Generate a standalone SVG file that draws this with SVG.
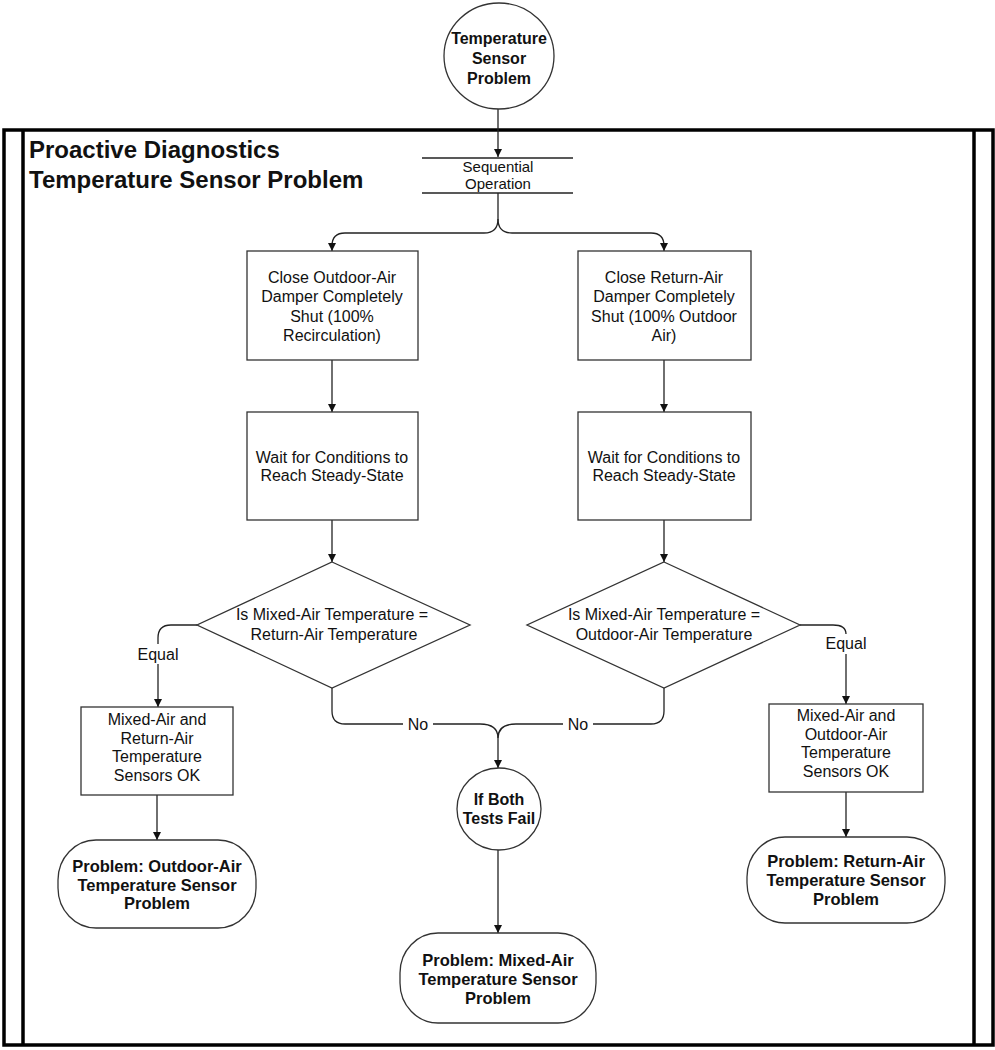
<svg xmlns="http://www.w3.org/2000/svg" width="995" height="1050" viewBox="0 0 995 1050">
<style>
text{font-family:"Liberation Sans",Arial,sans-serif;fill:#111;text-anchor:middle}
.t{font-size:16px}
.b{font-size:16.5px;font-weight:bold}
.title{font-size:24px;font-weight:bold;text-anchor:start}
.shape{fill:#fff;stroke:#333;stroke-width:1.3}
.conn{fill:none;stroke:#222;stroke-width:1.3}
.frame{fill:none;stroke:#000;stroke-width:3.5}
</style>
<defs>
<marker id="arr" viewBox="0 0 10 10" refX="10" refY="5" markerWidth="8" markerHeight="8" orient="auto" markerUnits="userSpaceOnUse">
<path d="M0,0 L10,5 L0,10 z" fill="#111"/>
</marker>
</defs>
<rect width="995" height="1050" fill="#fff"/>
<g id="frame">
<rect class="frame" x="4" y="130" width="989" height="915"/>
<line class="frame" x1="23" y1="130" x2="23" y2="1045"/>
<line class="frame" x1="974" y1="130" x2="974" y2="1045"/>
<text class="title" x="29" y="158">Proactive Diagnostics</text>
<text class="title" x="29" y="188">Temperature Sensor Problem</text>
</g>
<g id="connectors">
<path class="conn" d="M498,109 V157" marker-end="url(#arr)"/>
<path class="conn" d="M498,193 V219 Q498,233 484,233 H345 Q332,233 332,246 V251" marker-end="url(#arr)"/>
<path class="conn" d="M498,219 Q498,233 512,233 H651 Q664,233 664,246 V251" marker-end="url(#arr)"/>
<path class="conn" d="M332,360 V412" marker-end="url(#arr)"/>
<path class="conn" d="M664,360 V412" marker-end="url(#arr)"/>
<path class="conn" d="M332,520 V562" marker-end="url(#arr)"/>
<path class="conn" d="M664,520 V562" marker-end="url(#arr)"/>
<path class="conn" d="M197,625 H171 Q158,625 158,638 V644"/>
<path class="conn" d="M158,664 V707" marker-end="url(#arr)"/>
<path class="conn" d="M800,625 H833 Q846,625 846,634"/>
<path class="conn" d="M846,654 V704" marker-end="url(#arr)"/>
<path class="conn" d="M332,688 V711 Q332,724 345,724 H480 Q498,724 498,738"/>
<path class="conn" d="M664,688 V711 Q664,724 651,724 H516 Q498,724 498,738"/>
<path class="conn" d="M498,738 V768" marker-end="url(#arr)"/>
<path class="conn" d="M498,850 V933" marker-end="url(#arr)"/>
<path class="conn" d="M157,795 V840" marker-end="url(#arr)"/>
<path class="conn" d="M846,792 V837" marker-end="url(#arr)"/>
<rect x="403" y="714" width="30" height="20" fill="#fff"/>
<rect x="563" y="714" width="30" height="20" fill="#fff"/>
<text class="t" x="418" y="730">No</text>
<text class="t" x="578" y="730">No</text>
<text class="t" x="158" y="660">Equal</text>
<text class="t" x="846" y="649">Equal</text>
</g>
<g id="start">
<ellipse class="shape" cx="499" cy="56" rx="55" ry="53"/>
<text class="b" x="499" y="44" style="font-size:16px">Temperature</text>
<text class="b" x="499" y="64" style="font-size:16px">Sensor</text>
<text class="b" x="499" y="84" style="font-size:16px">Problem</text>
</g>
<g id="sequential">
<line class="conn" x1="422" y1="158" x2="573" y2="158"/>
<line class="conn" x1="422" y1="193" x2="573" y2="193"/>
<text class="t" x="498" y="172" style="font-size:15px">Sequential</text>
<text class="t" x="498" y="189" style="font-size:15px">Operation</text>
</g>
<g id="closeOA">
<rect class="shape" x="247" y="251" width="171" height="109"/>
<text class="t" x="332" y="283">Close Outdoor-Air</text>
<text class="t" x="332" y="302">Damper Completely</text>
<text class="t" x="332" y="322">Shut (100%</text>
<text class="t" x="332" y="341">Recirculation)</text>
</g>
<g id="closeRA">
<rect class="shape" x="578" y="251" width="173" height="109"/>
<text class="t" x="664" y="283">Close Return-Air</text>
<text class="t" x="664" y="302">Damper Completely</text>
<text class="t" x="664" y="322">Shut (100% Outdoor</text>
<text class="t" x="664" y="341">Air)</text>
</g>
<g id="waitL">
<rect class="shape" x="247" y="412" width="171" height="108"/>
<text class="t" x="332" y="463">Wait for Conditions to</text>
<text class="t" x="332" y="481">Reach Steady-State</text>
</g>
<g id="waitR">
<rect class="shape" x="578" y="412" width="173" height="108"/>
<text class="t" x="664" y="463">Wait for Conditions to</text>
<text class="t" x="664" y="481">Reach Steady-State</text>
</g>
<g id="decisionL">
<polygon class="shape" points="332,562 470,625 332,688 197,625"/>
<text class="t" x="332" y="620">Is Mixed-Air Temperature =</text>
<text class="t" x="334" y="640">Return-Air Temperature</text>
</g>
<g id="decisionR">
<polygon class="shape" points="664,562 800,625 664,688 527,625"/>
<text class="t" x="664" y="620">Is Mixed-Air Temperature =</text>
<text class="t" x="664" y="640">Outdoor-Air Temperature</text>
</g>
<g id="okL">
<rect class="shape" x="81" y="707" width="152" height="88"/>
<text class="t" x="157" y="725">Mixed-Air and</text>
<text class="t" x="157" y="744">Return-Air</text>
<text class="t" x="157" y="762">Temperature</text>
<text class="t" x="157" y="781">Sensors OK</text>
</g>
<g id="okR">
<rect class="shape" x="769" y="704" width="154" height="88"/>
<text class="t" x="846" y="721">Mixed-Air and</text>
<text class="t" x="846" y="740">Outdoor-Air</text>
<text class="t" x="846" y="758">Temperature</text>
<text class="t" x="846" y="777">Sensors OK</text>
</g>
<g id="bothFail">
<ellipse class="shape" cx="499" cy="809" rx="42" ry="41"/>
<text class="b" x="499" y="805" style="font-size:16px">If Both</text>
<text class="b" x="499" y="824" style="font-size:16px">Tests Fail</text>
</g>
<g id="probOA">
<rect class="shape" x="58" y="840" width="198" height="88" rx="38" ry="40"/>
<text class="b" x="157" y="872">Problem: Outdoor-Air</text>
<text class="b" x="157" y="891">Temperature Sensor</text>
<text class="b" x="157" y="909">Problem</text>
</g>
<g id="probMA">
<rect class="shape" x="400" y="933" width="196" height="90" rx="38" ry="40"/>
<text class="b" x="498" y="966">Problem: Mixed-Air</text>
<text class="b" x="498" y="985">Temperature Sensor</text>
<text class="b" x="498" y="1004">Problem</text>
</g>
<g id="probRA">
<rect class="shape" x="747" y="837" width="198" height="86" rx="38" ry="40"/>
<text class="b" x="846" y="867">Problem: Return-Air</text>
<text class="b" x="846" y="886">Temperature Sensor</text>
<text class="b" x="846" y="905">Problem</text>
</g>
</svg>
